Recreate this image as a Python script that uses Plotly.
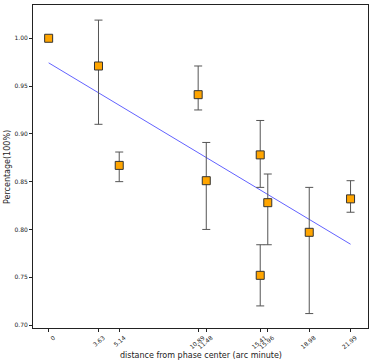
"""Relative flux vs distance from phase centre."""

import numpy as np
import plotly.graph_objects as go

distance = [0, 3.63, 5.14, 10.89, 11.48, 15.41, 15.41, 15.96, 18.98, 21.99]
percentage = [1.000, 0.971, 0.867, 0.941, 0.851, 0.878, 0.752, 0.828, 0.797, 0.832]
err_plus = [0.0, 0.048, 0.014, 0.030, 0.040, 0.036, 0.032, 0.030, 0.047, 0.019]
err_minus = [0.0, 0.061, 0.017, 0.016, 0.051, 0.034, 0.032, 0.044, 0.085, 0.014]
tick_vals = [0, 3.63, 5.14, 10.89, 11.48, 15.41, 15.96, 18.98, 21.99]
tick_text = ["0", "3.63", "5.14", "10.89", "11.48", "15.41", "15.96", "18.98", "21.99"]

# least-squares trend line
slope, intercept = np.polyfit(distance, percentage, 1)
fit_x = [min(distance), max(distance)]
fit_y = [slope * v + intercept for v in fit_x]

fig = go.Figure()
fig.add_trace(go.Scatter(
    x=fit_x, y=fit_y, mode="lines",
    line=dict(color="rgba(70,70,255,0.85)", width=1),
    showlegend=False,
))
fig.add_trace(go.Scatter(
    x=distance, y=percentage, mode="markers",
    marker=dict(symbol="square", size=8, color="#ffa500",
                line=dict(color="#333333", width=1)),
    error_y=dict(type="data", symmetric=False, array=err_plus,
                 arrayminus=err_minus, color="#555555", thickness=1, width=4),
    showlegend=False,
))

axis_common = dict(
    showgrid=False, zeroline=False, showline=True, linecolor="#222222",
    linewidth=1, mirror=True, ticks="outside", ticklen=3, tickcolor="#222222",
    tickfont=dict(size=6, color="#222222"), automargin=False,
)
fig.update_xaxes(
    range=[-1.14, 23.26], tickmode="array", tickvals=tick_vals,
    ticktext=tick_text, tickangle=-40, ticklabelshift=5,
    **axis_common,
)
fig.update_yaxes(
    range=[0.6969, 1.0348], tickvals=[0.70, 0.75, 0.80, 0.85, 0.90, 0.95, 1.00],
    tickformat=".2f",
    **axis_common,
)
title_font = dict(size=8, color="#222222")
fig.add_annotation(
    text="distance from phase center (arc minute)", xref="paper", yref="paper",
    x=0.5, y=0, yshift=-21, yanchor="top", showarrow=False, font=title_font,
)
fig.add_annotation(
    text="Percentage(100%)", xref="paper", yref="paper", textangle=-90,
    x=0, y=0.5, xshift=-19, xanchor="right", showarrow=False, font=title_font,
)
fig.update_layout(
    width=371, height=363,
    margin=dict(l=33, r=3, t=5, b=35),
    plot_bgcolor="white", paper_bgcolor="white",
    font=dict(family="DejaVu Sans"),
)
# page body has a default 8px margin; drop it so the figure fills the window
fig.write_html("out.html", config={"displayModeBar": False},
               post_script="document.body.style.margin='0';")
